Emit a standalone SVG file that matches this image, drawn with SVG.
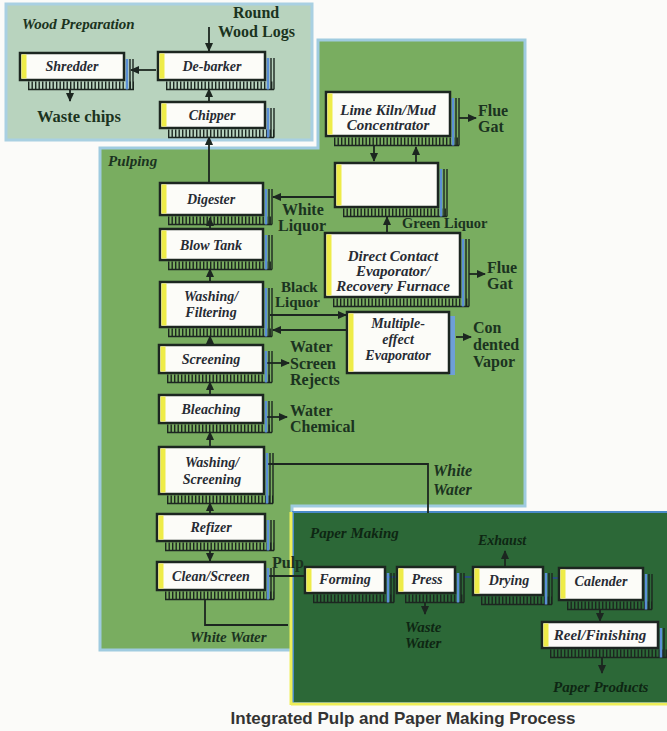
<svg xmlns="http://www.w3.org/2000/svg" width="667" height="731" viewBox="0 0 667 731">
<style>
.box{fill:#fcfcf8;stroke:#1c2620;stroke-width:2.5}
.stripe{fill:#eeec48}
.tick{stroke:#1c2620;stroke-width:8;stroke-dasharray:1.4 2.1}
.base{stroke:#1c2620;stroke-width:1.3}
.rb{stroke:#5b8fd6;stroke-width:2.5}
.rd{stroke:#1c2620;stroke-width:1.4}
.nt{font-family:"Liberation Serif",serif;font-style:italic;font-weight:bold;font-size:14px;fill:#272b33;text-anchor:middle}
.nt15{font-size:15px}
.lb{font-family:"Liberation Serif",serif;font-weight:bold;font-size:16px;fill:#1b3320}
.li{font-family:"Liberation Serif",serif;font-style:italic;font-weight:bold;font-size:15px;fill:#1b3320}
.pi{font-family:"Liberation Serif",serif;font-style:italic;font-weight:bold;font-size:15px;fill:#0e2613}
.c{stroke:#1c2620;stroke-width:1.8;fill:none}
.a{marker-end:url(#ah)}
.pc{stroke:#2a4f7a;stroke-width:2;fill:none}
</style>
<defs>
<marker id="ah" markerUnits="userSpaceOnUse" markerWidth="9" markerHeight="8" refX="8" refY="4" orient="auto">
<path d="M0,0 L9,4 L0,8 Z" fill="#1c2620"/>
</marker>
</defs>
<rect width="667" height="731" fill="#fbfbf9"/>
<g id="panels">
<rect x="6" y="4" width="306" height="136" fill="#b8d3be" stroke="#a9d0e2" stroke-width="3"/>
<path d="M100,148 H318 V40 H525 V506 H292 V650 H100 Z" fill="#79ad60" stroke="#9fcbe0" stroke-width="3"/>
<rect x="293" y="512" width="380" height="191" fill="#2c6837" stroke="#4a8ac8" stroke-width="2"/>
<line x1="291" y1="512" x2="291" y2="705" stroke="#eeee58" stroke-width="3"/>
<line x1="291" y1="704" x2="667" y2="704" stroke="#eeee58" stroke-width="3"/>
<text class="li" x="22" y="29">Wood Preparation</text>
<text class="li" x="108" y="166">Pulping</text>
<text class="pi" x="310" y="538">Paper Making</text>
</g>
<g id="connectors">
<line class="c a" x1="209" y1="27" x2="209" y2="51"/>
<line class="c a" x1="156" y1="70" x2="131" y2="70"/>
<line class="c a" x1="70" y1="89" x2="70" y2="101"/>
<line class="c a" x1="209" y1="102" x2="209" y2="89"/>
<line class="c a" x1="209" y1="183" x2="209" y2="137"/>
<line class="c a" x1="210" y1="229" x2="210" y2="218"/>
<line class="c a" x1="210" y1="282" x2="210" y2="269"/>
<line class="c a" x1="210" y1="345" x2="210" y2="336"/>
<line class="c a" x1="210" y1="395" x2="210" y2="382"/>
<line class="c a" x1="210" y1="447" x2="210" y2="432"/>
<line class="c a" x1="210" y1="514" x2="210" y2="503"/>
<line class="c a" x1="210" y1="551" x2="210" y2="561"/>
<polyline class="c" points="205,600 205,625 288,625"/>
<line class="c" x1="268" y1="576" x2="305" y2="576"/>
<line class="c a" x1="335" y1="197" x2="273" y2="197"/>
<line class="c a" x1="270" y1="315" x2="346" y2="315"/>
<line class="c a" x1="346" y1="330" x2="273" y2="330"/>
<line class="c a" x1="266" y1="363" x2="289" y2="363"/>
<line class="c a" x1="266" y1="417" x2="287" y2="417"/>
<polyline class="c" points="266,464 428,464 428,513"/>
<line class="c a" x1="374" y1="146" x2="374" y2="161"/>
<line class="c a" x1="416" y1="163" x2="416" y2="147"/>
<line class="c a" x1="459" y1="118" x2="476" y2="118"/>
<line class="c a" x1="387" y1="233" x2="387" y2="217"/>
<line class="c a" x1="469" y1="274" x2="485" y2="274"/>
<line class="c a" x1="456" y1="337" x2="471" y2="337"/>
<line class="pc" x1="385" y1="577" x2="397" y2="577"/>
<line class="pc" x1="464" y1="577" x2="473" y2="577"/>
<line class="pc" x1="552" y1="578" x2="559" y2="578"/>
<line class="c a" x1="505" y1="567" x2="505" y2="551"/>
<line class="c a" x1="425" y1="603" x2="425" y2="614"/>
<line class="c a" x1="600" y1="610" x2="600" y2="621"/>
<line class="c a" x1="602" y1="658" x2="602" y2="673"/>
</g>
<g id="shredder">
<line class="tick" x1="28" y1="85.5" x2="134" y2="85.5"/><line class="base" x1="28" y1="89.5" x2="134" y2="89.5"/>
<line class="rb" x1="127" y1="59" x2="127" y2="89.5"/><line class="rd" x1="130" y1="59" x2="130" y2="89.5"/><line class="rd" x1="133" y1="59" x2="133" y2="89.5"/>
<rect class="box" x="20" y="53" width="104" height="27"/><rect class="stripe" x="21.5" y="54.5" width="5" height="24"/>
<text class="nt" x="72" y="71">Shredder</text>
</g>
<g id="debarker">
<line class="tick" x1="166" y1="85.5" x2="274" y2="85.5"/><line class="base" x1="166" y1="89.5" x2="274" y2="89.5"/>
<line class="rb" x1="268" y1="58" x2="268" y2="89.5"/><line class="rd" x1="271" y1="58" x2="271" y2="89.5"/><line class="rd" x1="274" y1="58" x2="274" y2="89.5"/>
<rect class="box" x="158" y="52" width="107" height="28"/><rect class="stripe" x="159.5" y="53.5" width="5" height="25"/>
<text class="nt" x="212" y="71">De-barker</text>
</g>
<g id="chipper">
<line class="tick" x1="168" y1="133.5" x2="274" y2="133.5"/><line class="base" x1="168" y1="137.5" x2="274" y2="137.5"/>
<line class="rb" x1="268" y1="108" x2="268" y2="137.5"/><line class="rd" x1="271" y1="108" x2="271" y2="137.5"/><line class="rd" x1="274" y1="108" x2="274" y2="137.5"/>
<rect class="box" x="160" y="102" width="105" height="26"/><rect class="stripe" x="161.5" y="103.5" width="5" height="23"/>
<text class="nt" x="212" y="120">Chipper</text>
</g>
<g id="digester">
<line class="tick" x1="168" y1="220.5" x2="272" y2="220.5"/><line class="base" x1="168" y1="224.5" x2="272" y2="224.5"/>
<line class="rb" x1="266" y1="189" x2="266" y2="224.5"/><line class="rd" x1="269" y1="189" x2="269" y2="224.5"/><line class="rd" x1="272" y1="189" x2="272" y2="224.5"/>
<rect class="box" x="160" y="183" width="103" height="32"/><rect class="stripe" x="161.5" y="184.5" width="5" height="29"/>
<text class="nt" x="211" y="204">Digester</text>
</g>
<g id="blowtank">
<line class="tick" x1="168" y1="265.5" x2="272" y2="265.5"/><line class="base" x1="168" y1="269.5" x2="272" y2="269.5"/>
<line class="rb" x1="266" y1="235" x2="266" y2="269.5"/><line class="rd" x1="269" y1="235" x2="269" y2="269.5"/><line class="rd" x1="272" y1="235" x2="272" y2="269.5"/>
<rect class="box" x="160" y="229" width="103" height="31"/><rect class="stripe" x="161.5" y="230.5" width="5" height="28"/>
<text class="nt" x="211" y="250">Blow Tank</text>
</g>
<g id="washing-filtering">
<line class="tick" x1="168" y1="332.5" x2="272" y2="332.5"/><line class="base" x1="168" y1="336.5" x2="272" y2="336.5"/>
<line class="rb" x1="266" y1="288" x2="266" y2="336.5"/><line class="rd" x1="269" y1="288" x2="269" y2="336.5"/><line class="rd" x1="272" y1="288" x2="272" y2="336.5"/>
<rect class="box" x="160" y="282" width="103" height="45"/><rect class="stripe" x="161.5" y="283.5" width="5" height="42"/>
<text class="nt" x="211" y="301">Washing/</text><text class="nt" x="211" y="317">Filtering</text>
</g>
<g id="screening">
<line class="tick" x1="167" y1="378.5" x2="272" y2="378.5"/><line class="base" x1="167" y1="382.5" x2="272" y2="382.5"/>
<line class="rb" x1="266" y1="351" x2="266" y2="382.5"/><line class="rd" x1="269" y1="351" x2="269" y2="382.5"/><line class="rd" x1="272" y1="351" x2="272" y2="382.5"/>
<rect class="box" x="159" y="345" width="104" height="28"/><rect class="stripe" x="160.5" y="346.5" width="5" height="25"/>
<text class="nt" x="211" y="364">Screening</text>
</g>
<g id="bleaching">
<line class="tick" x1="167" y1="428.5" x2="272" y2="428.5"/><line class="base" x1="167" y1="432.5" x2="272" y2="432.5"/>
<line class="rb" x1="266" y1="401" x2="266" y2="432.5"/><line class="rd" x1="269" y1="401" x2="269" y2="432.5"/><line class="rd" x1="272" y1="401" x2="272" y2="432.5"/>
<rect class="box" x="159" y="395" width="104" height="28"/><rect class="stripe" x="160.5" y="396.5" width="5" height="25"/>
<text class="nt" x="211" y="414">Bleaching</text>
</g>
<g id="washing-screening">
<line class="tick" x1="167" y1="499.5" x2="273" y2="499.5"/><line class="base" x1="167" y1="503.5" x2="273" y2="503.5"/>
<line class="rb" x1="267" y1="453" x2="267" y2="503.5"/><line class="rd" x1="270" y1="453" x2="270" y2="503.5"/><line class="rd" x1="273" y1="453" x2="273" y2="503.5"/>
<rect class="box" x="159" y="447" width="105" height="47"/><rect class="stripe" x="160.5" y="448.5" width="5" height="44"/>
<text class="nt" x="212" y="467">Washing/</text><text class="nt" x="212" y="484">Screening</text>
</g>
<g id="refizer">
<line class="tick" x1="165" y1="546.5" x2="274" y2="546.5"/><line class="base" x1="165" y1="550.5" x2="274" y2="550.5"/>
<line class="rb" x1="268" y1="520" x2="268" y2="550.5"/><line class="rd" x1="271" y1="520" x2="271" y2="550.5"/><line class="rd" x1="274" y1="520" x2="274" y2="550.5"/>
<rect class="box" x="157" y="514" width="108" height="27"/><rect class="stripe" x="158.5" y="515.5" width="5" height="24"/>
<text class="nt" x="211" y="532">Refizer</text>
</g>
<g id="clean-screen">
<line class="tick" x1="165" y1="595.5" x2="274" y2="595.5"/><line class="base" x1="165" y1="599.5" x2="274" y2="599.5"/>
<line class="rb" x1="268" y1="568" x2="268" y2="599.5"/><line class="rd" x1="271" y1="568" x2="271" y2="599.5"/><line class="rd" x1="274" y1="568" x2="274" y2="599.5"/>
<rect class="box" x="157" y="562" width="108" height="28"/><rect class="stripe" x="158.5" y="563.5" width="5" height="25"/>
<text class="nt" x="211" y="581">Clean/Screen</text>
</g>
<g id="lime-kiln">
<line class="tick" x1="334" y1="141.5" x2="459" y2="141.5"/><line class="base" x1="334" y1="145.5" x2="459" y2="145.5"/>
<line class="rb" x1="453" y1="98" x2="453" y2="145.5"/><line class="rd" x1="456" y1="98" x2="456" y2="145.5"/><line class="rd" x1="459" y1="98" x2="459" y2="145.5"/>
<rect class="box" x="326" y="92" width="124" height="44"/><rect class="stripe" x="327.5" y="93.5" width="5" height="41"/>
<text class="nt nt15" x="388" y="115">Lime Kiln/Mud</text><text class="nt nt15" x="388" y="130">Concentrator</text>
</g>
<g id="blank-box">
<line class="tick" x1="343" y1="212.5" x2="447" y2="212.5"/><line class="base" x1="343" y1="216.5" x2="447" y2="216.5"/>
<line class="rb" x1="441" y1="169" x2="441" y2="216.5"/><line class="rd" x1="444" y1="169" x2="444" y2="216.5"/><line class="rd" x1="447" y1="169" x2="447" y2="216.5"/>
<rect class="box" x="335" y="163" width="103" height="44"/><rect class="stripe" x="336.5" y="164.5" width="5" height="41"/>
</g>
<g id="direct-contact">
<line class="tick" x1="333" y1="302.5" x2="469" y2="302.5"/><line class="base" x1="333" y1="306.5" x2="469" y2="306.5"/>
<line class="rb" x1="463" y1="239" x2="463" y2="306.5"/><line class="rd" x1="466" y1="239" x2="466" y2="306.5"/><line class="rd" x1="469" y1="239" x2="469" y2="306.5"/>
<rect class="box" x="325" y="233" width="135" height="64"/><rect class="stripe" x="326.5" y="234.5" width="5" height="61"/>
<text class="nt nt15" x="393" y="261">Direct Contact</text><text class="nt nt15" x="393" y="276">Evaporator/</text><text class="nt nt15" x="393" y="291">Recovery Furnace</text>
</g>
<g id="multiple-effect">
<rect x="449" y="316" width="6" height="59" fill="#6e9fd8"/>
<rect class="box" x="347" y="312" width="102" height="61"/><rect class="stripe" x="348.5" y="313.5" width="5" height="58"/>
<text class="nt" x="398" y="328">Multiple-</text><text class="nt" x="398" y="344">effect</text><text class="nt" x="398" y="360">Evaporator</text>
</g>
<g id="forming">
<line class="tick" x1="313" y1="598.5" x2="394" y2="598.5"/><line class="base" x1="313" y1="602.5" x2="394" y2="602.5"/>
<line class="rb" x1="388" y1="573" x2="388" y2="602.5"/><line class="rd" x1="391" y1="573" x2="391" y2="602.5"/><line class="rd" x1="394" y1="573" x2="394" y2="602.5"/>
<rect class="box" x="305" y="567" width="80" height="26"/><rect class="stripe" x="306.5" y="568.5" width="5" height="23"/>
<text class="nt" x="345" y="584">Forming</text>
</g>
<g id="press">
<line class="tick" x1="405" y1="598.5" x2="464" y2="598.5"/><line class="base" x1="405" y1="602.5" x2="464" y2="602.5"/>
<line class="rb" x1="458" y1="573" x2="458" y2="602.5"/><line class="rd" x1="461" y1="573" x2="461" y2="602.5"/><line class="rd" x1="464" y1="573" x2="464" y2="602.5"/>
<rect class="box" x="397" y="567" width="58" height="26"/><rect class="stripe" x="398.5" y="568.5" width="5" height="23"/>
<text class="nt" x="427" y="584">Press</text>
</g>
<g id="drying">
<line class="tick" x1="481" y1="600.5" x2="552" y2="600.5"/><line class="base" x1="481" y1="604.5" x2="552" y2="604.5"/>
<line class="rb" x1="546" y1="573" x2="546" y2="604.5"/><line class="rd" x1="549" y1="573" x2="549" y2="604.5"/><line class="rd" x1="552" y1="573" x2="552" y2="604.5"/>
<rect class="box" x="473" y="567" width="70" height="28"/><rect class="stripe" x="474.5" y="568.5" width="5" height="25"/>
<text class="nt" x="509" y="585">Drying</text>
</g>
<g id="calender">
<line class="tick" x1="567" y1="605.5" x2="652" y2="605.5"/><line class="base" x1="567" y1="609.5" x2="652" y2="609.5"/>
<line class="rb" x1="646" y1="574" x2="646" y2="609.5"/><line class="rd" x1="649" y1="574" x2="649" y2="609.5"/><line class="rd" x1="652" y1="574" x2="652" y2="609.5"/>
<rect class="box" x="559" y="568" width="84" height="32"/><rect class="stripe" x="560.5" y="569.5" width="5" height="29"/>
<text class="nt" x="601" y="586">Calender</text>
</g>
<g id="reel-finishing">
<line class="tick" x1="550" y1="653.5" x2="667" y2="653.5"/><line class="base" x1="550" y1="657.5" x2="667" y2="657.5"/>
<line class="rb" x1="661" y1="628" x2="661" y2="657.5"/><line class="rd" x1="664" y1="628" x2="664" y2="657.5"/>
<rect class="box" x="542" y="622" width="116" height="26"/><rect class="stripe" x="543.5" y="623.5" width="5" height="23"/>
<text class="nt nt15" x="600" y="640">Reel/Finishing</text>
</g>
<g id="labels">
<text class="lb" x="233" y="18">Round</text>
<text class="lb" x="218" y="37">Wood Logs</text>
<text class="lb" x="37" y="122" style="font-size:16.5px">Waste chips</text>
<text class="lb" x="282" y="215">White</text>
<text class="lb" x="278" y="231">Liquor</text>
<text class="lb" x="281" y="292" style="font-size:15px">Black</text>
<text class="lb" x="275" y="307" style="font-size:15px">Liquor</text>
<text class="lb" x="402" y="228" style="font-size:14.5px">Green Liquor</text>
<text class="lb" x="478" y="116">Flue</text>
<text class="lb" x="478" y="132">Gat</text>
<text class="lb" x="487" y="273">Flue</text>
<text class="lb" x="487" y="289">Gat</text>
<text class="lb" x="473" y="333">Con</text>
<text class="lb" x="473" y="350">dented</text>
<text class="lb" x="473" y="367">Vapor</text>
<text class="lb" x="290" y="352">Water</text>
<text class="lb" x="290" y="369">Screen</text>
<text class="lb" x="290" y="385">Rejects</text>
<text class="lb" x="290" y="416">Water</text>
<text class="lb" x="290" y="432">Chemical</text>
<text class="li" x="433" y="476" style="font-size:16px">White</text>
<text class="li" x="433" y="495" style="font-size:16px">Water</text>
<text class="li" x="190" y="642">White Water</text>
<text class="lb" x="272" y="568">Pulp</text>
<text class="pi" x="478" y="545" style="font-size:14px">Exhaust</text>
<text class="pi" x="405" y="632">Waste</text>
<text class="pi" x="405" y="648">Water</text>
<text class="pi" x="553" y="692">Paper Products</text>
<text x="403" y="724" text-anchor="middle" style="font-family:'Liberation Sans',Arial,sans-serif;font-weight:bold;font-size:17px;fill:#333">Integrated Pulp and Paper Making Process</text>
</g>
</svg>
